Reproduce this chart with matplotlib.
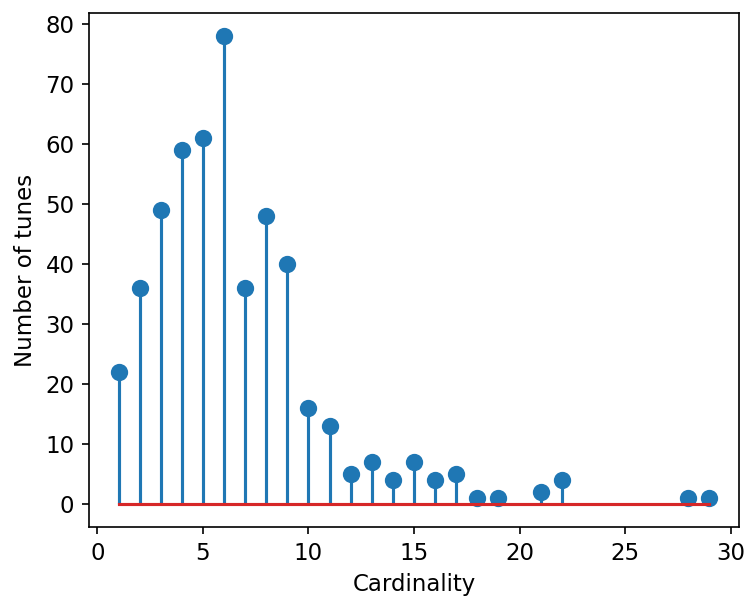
import matplotlib
matplotlib.use("Agg")
import matplotlib.pyplot as plt

# cardinality vs number of tunes
cardinality = [1, 2, 3, 4, 5, 6, 7, 8, 9, 10, 11, 12, 13, 14, 15, 16, 17, 18, 19, 21, 22, 28, 29]
num_tunes = [22, 36, 49, 59, 61, 78, 36, 48, 40, 16, 13, 5, 7, 4, 7, 4, 5, 1, 1, 2, 4, 1, 1]

plt.rcParams['font.size'] = 11

fig = plt.figure(figsize=(746 / 150, 596 / 150), dpi=150)
ax = fig.add_axes([89 / 746, 1 - 527 / 596, (739 - 89) / 746, (527 - 13) / 596])

markerline, stemlines, baseline = ax.stem(cardinality, num_tunes)
markerline.set_markersize(7.3)
baseline.set_color("#d62728")

ax.set_xlabel("Cardinality")
ax.set_ylabel("Number of tunes")

fig.savefig("out.png", dpi=150)
